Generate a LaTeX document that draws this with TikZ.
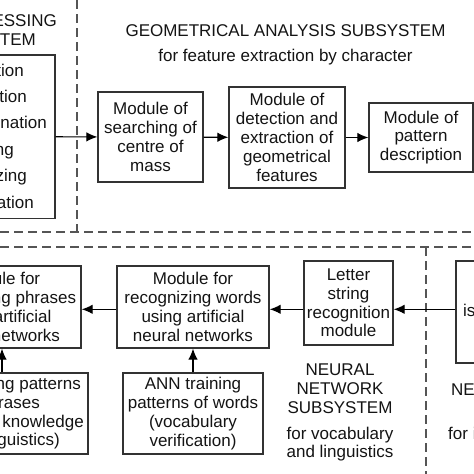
\documentclass[tikz,border=0pt]{standalone}
\usepackage{fontspec}
\setmainfont{Liberation Sans}
\usetikzlibrary{arrows.meta}
\definecolor{linec}{RGB}{50,50,50}
\definecolor{textc}{RGB}{20,20,20}
\definecolor{dashc}{RGB}{85,85,85}
\newcommand{\dfont}{\fontsize{17}{18.8}\selectfont}
\begin{document}
\begin{tikzpicture}[x=1pt,y=-1pt,
  box/.style={draw=linec, line width=1.3pt, inner sep=0pt, align=center, font=\dfont, text=textc},
  lbl/.style={inner sep=0pt, font=\dfont, text=textc},
  conn/.style={draw=black, line width=1.2pt, -{Latex[length=11pt,width=9.5pt]}},
  sepline/.style={draw=dashc, line width=1.1pt, dash pattern=on 9pt off 5pt}]
\useasboundingbox (0,0) rectangle (474,474);
\clip (0,0) rectangle (474,474);
\fill[white] (0,0) rectangle (474,474);

% separators
\coordinate (v1t) at (77,0);
\coordinate (v1b) at (77,232);
\coordinate (h1l) at (0,232);
\coordinate (h1r) at (474,232);
\coordinate (h2l) at (0,247);
\coordinate (h2r) at (474,247);
\coordinate (v2t) at (426,247);
\coordinate (v2b) at (426,474);
\draw[sepline] (v1t) -- (v1b);
\draw[sepline] (h1l) -- (h1r);
\draw[sepline] (h2l) -- (h2r);
\draw[sepline] (v2t) -- (v2b);

% preprocessing subsystem (cut at left)
\node[lbl, anchor=base east] (pt1) at (57,26.7) {PREPROCESSING};
\node[lbl, anchor=base east] (pt2) at (36,45) {SUBSYSTEM};
\node[box, minimum width=155pt, minimum height=163.3pt] (pre) at (-22.5,136.7) {};
\node[lbl, anchor=base east] (p1) at (24,76) {Binarization};
\node[lbl, anchor=base east] (p2) at (27,102) {Insertion};
\node[lbl, anchor=base east] (p3) at (47,128.5) {Elimination};
\node[lbl, anchor=base east] (p4) at (14,155) {Thinning};
\node[lbl, anchor=base east] (p5) at (27,181.5) {Normalizing};
\node[lbl, anchor=base east] (p6) at (34,208) {Segmentation};

% geometrical analysis subsystem
\node[lbl, anchor=base] (gt) at (285.5,36) {GEOMETRICAL ANALYSIS SUBSYSTEM};
\node[lbl, anchor=base] (gs) at (285.5,61.7) {for feature extraction by character};
\node[box, minimum width=105pt, minimum height=90pt] (m1) at (150.5,137) {Module of\\searching of\\centre of\\mass};
\node[box, minimum width=116pt, minimum height=101pt] (m2) at (287,137.5) {Module of\\detection and\\extraction of\\geometrical\\features};
\node[box, minimum width=104pt, minimum height=69pt] (m3) at (421,137.5) {Module of\\pattern\\description};

\draw[conn] (pre) -- (m1);
\draw[conn] (m1) -- (m2);
\draw[conn] (m2) -- (m3);

% neural network subsystem
\node[box, minimum width=162pt, minimum height=82pt] (na) at (0,307) {Module for\\recognizing phrases\\using artificial\\neural networks};
\node[box, minimum width=152pt, minimum height=82pt] (nb) at (193,307) {Module for\\recognizing words\\using artificial\\neural networks};
\node[box, minimum width=140pt, minimum height=81pt] (nc) at (193,413.5) {ANN training\\patterns of words\\(vocabulary\\verification)};
\node[box, minimum width=176pt, minimum height=81pt] (nd) at (0,413.5) {};
\node[lbl, anchor=base east] (d1) at (81,389.3) {ANN training patterns};
\node[lbl, anchor=base east] (d2) at (40,408) {of phrases};
\node[lbl, anchor=base east] (d3) at (84,427) {(expert knowledge};
\node[lbl, anchor=base east] (d4) at (60,445.5) {of linguistics)};
\node[box, minimum width=89pt, minimum height=84pt] (ne) at (348.5,303) {Letter\\string\\recognition\\module};
\node[box, minimum width=120pt, minimum height=102pt] (nf) at (516,312) {};
\node[lbl, anchor=base west] (ft) at (463,316) {isolated};

\coordinate (ay) at (0,309.3);
\coordinate (dx) at (2,0);
\draw[conn] (nf.west |- ay) -- (ne.east |- ay);
\draw[conn] (ne.west |- ay) -- (nb.east |- ay);
\draw[conn] (nb.west |- ay) -- (na.east |- ay);
\draw[conn] (nc) -- (nb);
\draw[conn] (nd.north -| dx) -- (na.south -| dx);

\node[lbl, anchor=base] (nn1) at (340,375) {NEURAL};
\node[lbl, anchor=base] (nn2) at (340,394) {NETWORK};
\node[lbl, anchor=base] (nn3) at (340,413) {SUBSYSTEM};
\node[lbl, anchor=base] (nn4) at (340,439) {for vocabulary};
\node[lbl, anchor=base] (nn5) at (340,457) {and linguistics};
\node[lbl, anchor=base west] (rn1) at (451,395) {NEURAL};
\node[lbl, anchor=base west] (rn2) at (448,439) {for isolated};
\end{tikzpicture}
\end{document}
